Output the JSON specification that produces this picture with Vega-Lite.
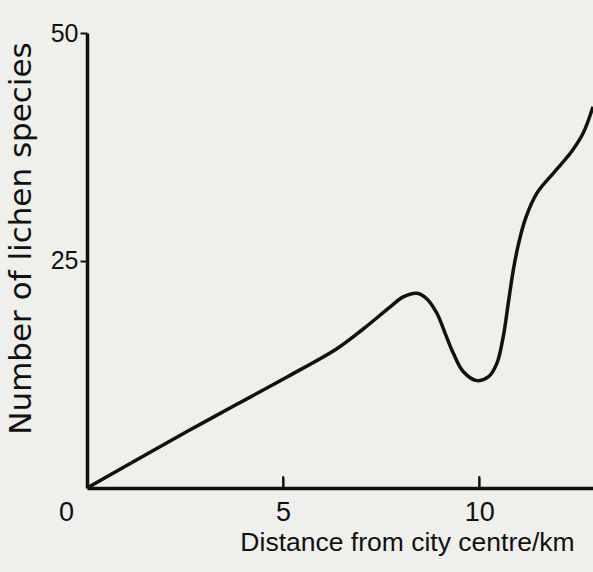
{
  "$schema": "https://vega.github.io/schema/vega-lite/v6.json",
  "width": 506,
  "height": 455,
  "autosize": {"type": "none"},
  "padding": {"left": 87, "top": 33, "right": 0, "bottom": 84},
  "background": "#efefec",
  "config": {"view": {"stroke": null}, "font": "Liberation Sans"},
  "resolve": {"axis": {"x": "independent", "y": "independent"}},
  "layer": [
    {
      "data": {"values": [
        {"d": 0, "n": 0},
        {"d": 1.27, "n": 3.1},
        {"d": 2.55, "n": 6.2},
        {"d": 3.82, "n": 9.2},
        {"d": 5.1, "n": 12.2},
        {"d": 6.37, "n": 15.3},
        {"d": 7.05, "n": 17.5},
        {"d": 7.73, "n": 19.9},
        {"d": 8.06, "n": 21.0},
        {"d": 8.41, "n": 21.4},
        {"d": 8.66, "n": 20.8},
        {"d": 8.92, "n": 19.2},
        {"d": 9.13, "n": 17.0},
        {"d": 9.34, "n": 14.8},
        {"d": 9.59, "n": 12.8},
        {"d": 9.94, "n": 11.8},
        {"d": 10.23, "n": 12.2},
        {"d": 10.45, "n": 13.7},
        {"d": 10.61, "n": 16.6},
        {"d": 10.74, "n": 20.3},
        {"d": 10.87, "n": 24.0},
        {"d": 11.0, "n": 26.8},
        {"d": 11.17, "n": 29.5},
        {"d": 11.47, "n": 32.4},
        {"d": 11.89, "n": 34.6},
        {"d": 12.36, "n": 37.0},
        {"d": 12.65, "n": 39.0},
        {"d": 12.9, "n": 41.9}
      ]},
      "mark": {"type": "line", "interpolate": "catmull-rom", "color": "#111111", "strokeWidth": 3.5, "clip": true},
      "encoding": {
        "x": {
          "field": "d", "type": "quantitative",
          "scale": {"domain": [0, 12.9], "nice": false, "zero": true},
          "axis": {
            "values": [0, 5, 10],
            "grid": false,
            "ticks": false,
            "domainColor": "#111111", "domainWidth": 3.5,
            "labelFontSize": 27, "labelColor": "#111111", "labelPadding": 11,
            "labelFlush": false,
            "labelOffset": {"condition": {"test": "datum.value == 0", "value": -21}, "value": 0},
            "title": "Distance from city centre/km",
            "titleFontSize": 26.5, "titleFontWeight": "normal", "titleColor": "#111111",
            "titleX": 320, "titleY": 62, "titleAlign": "center", "titleBaseline": "alphabetic"
          }
        },
        "y": {
          "field": "n", "type": "quantitative",
          "scale": {"domain": [0, 50], "nice": false},
          "axis": {
            "values": [25, 50],
            "grid": false,
            "domainColor": "#111111", "domainWidth": 3.5,
            "tickColor": "#111111", "tickWidth": 2, "tickSize": 7,
            "labelFontSize": 25, "labelColor": "#111111", "labelPadding": 2,
            "labelFlush": false,
            "title": "Number of lichen species",
            "titleFont": "DejaVu Sans",
            "titleFontSize": 31, "titleFontWeight": "normal", "titleColor": "#111111",
            "titleX": -66, "titleY": 205, "titleAngle": -90, "titleAlign": "center", "titleBaseline": "middle"
          }
        }
      }
    },
    {
      "data": {"values": [{"t": 5}, {"t": 10}]},
      "mark": {"type": "rule", "color": "#111111", "strokeWidth": 2},
      "encoding": {
        "x": {
          "field": "t", "type": "quantitative",
          "axis": {
            "orient": "top", "offset": -455, "values": [5, 10],
            "domain": false, "labels": false, "grid": false, "title": null,
            "ticks": true, "tickSize": 11, "tickWidth": 2, "tickColor": "#111111"
          }
        },
        "y": {"datum": 0, "type": "quantitative", "axis": null},
        "y2": {"datum": 1.3}
      }
    }
  ]
}
